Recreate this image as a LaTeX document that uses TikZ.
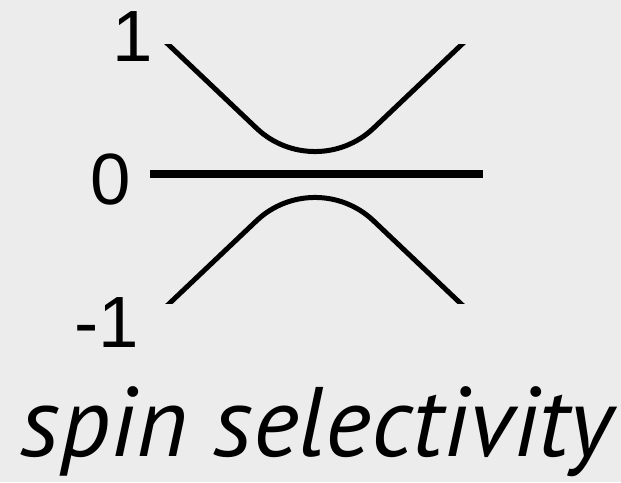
\documentclass[tikz,border=0pt]{standalone}
\usepackage{fontspec}
\newfontfamily\digitfont{Liberation Sans}
\newfontfamily\capfont{PT Sans}
\definecolor{bgray}{HTML}{ECECEC}
\begin{document}
\begin{tikzpicture}[
    x=1pt, y=1pt,
    lbl/.style={inner sep=0pt, anchor=base, font=\digitfont\fontsize{72.6}{72.6}\selectfont},
    curve/.style={line width=5pt},
    level/.style={line width=8pt}
]
  % ===== background =====
  \fill[bgray] (0,0) rectangle (621,482);
  \useasboundingbox (0,0) rectangle (621,482);

  % ===== levels =====
  \node[lbl] (lone) at (133,420) {1};
  \node[lbl] (lzero) at (111,277) {0};
  \node[lbl] (lmone) at (107,134) {-1};

  \coordinate (zl) at (150,307.5);
  \coordinate (zr) at (483,307.5);
  \draw[level] (zl) -- (zr);

  \begin{scope}
    \clip (140,178) rectangle (500,437);
    % upper branch
    \draw[curve] (160.4,445) -- (256.5,353.8)
      arc[start angle=226.5, end angle=313.5, radius=85pt] -- (469.6,445);
    % lower branch
    \draw[curve] (160.4,170) -- (256.5,261.2)
      arc[start angle=133.5, end angle=46.5, radius=85pt] -- (469.6,170);
  \end{scope}

  % ===== caption =====
  \node[inner sep=0pt, anchor=base, font=\capfont\itshape\fontsize{100}{100}\selectfont] (cap) at (317,25)
    {\resizebox{592pt}{!}{spin selectivity}};
\end{tikzpicture}
\end{document}
